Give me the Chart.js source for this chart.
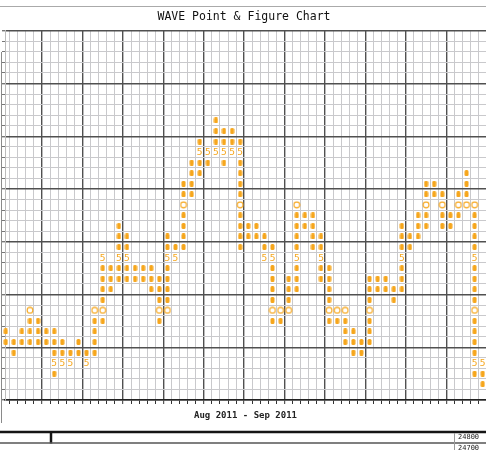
<!DOCTYPE html>
<html>
<head>
<meta charset="utf-8">
<title>WAVE Point &amp; Figure Chart</title>
<script src="https://cdn.jsdelivr.net/npm/chart.js@4/dist/chart.umd.min.js"></script>
<style>
    html, body { margin: 0; padding: 0; background: #fff; overflow: hidden; }
    canvas { display: block; }
</style>
</head>
<body>
<canvas id="pnf" width="486" height="450"></canvas>
<script>
(function () {
    'use strict';

    // one entry per column, box rows counted from the bottom of the grid
    var columnLows = [5, 4, 5, 5, 5, 5, 2, 3, 3, 4, 3, 4, 7, 10, 11, 11, 11, 11, 10, 7,
                      8, 13, 14, 19, 21, 22, 23, 22, 23, 14, 15, 15, 13, 7, 7, 8, 10, 16, 14, 11,
                      7, 7, 5, 4, 4, 5, 10, 10, 9, 10, 14, 15, 16, 19, 16, 16, 17, 18, 2, 1];
    var columnHighs = [6, 5, 6, 8, 7, 6, 6, 5, 4, 5, 4, 8, 13, 12, 16, 15, 12, 12, 12, 11,
                       15, 14, 20, 22, 24, 23, 26, 25, 25, 24, 16, 16, 15, 14, 8, 11, 18, 17, 17, 15,
                       12, 8, 8, 6, 5, 11, 11, 11, 10, 16, 15, 17, 20, 20, 19, 17, 19, 21, 18, 3];
    var rowCount = 35;
    var titleText = 'WAVE Point & Figure Chart';
    var periodText = 'Aug 2011 - Sep 2011';
    var footerLabels = ['24800', '24700'];

    var ORANGE = '#f6a61c';
    var MONO = '"DejaVu Sans Mono", "Liberation Mono", monospace';

    // boxes on a level ending in 0 get a ring, on a level ending in 5 a "5"
    var dots = [], rings = [], fives = [];
    columnLows.forEach(function (low, col) {
        for (var row = low; row <= columnHighs[col]; row++) {
            var p = {x: col, y: row};
            if (row % 10 === 8) {
                rings.push(p);
            } else if (row % 10 === 3) {
                fives.push(p);
            } else {
                dots.push(p);
            }
        }
    });

    function dotImage() {
        var c = document.createElement('canvas');
        c.width = 5;
        c.height = 6;
        var g = c.getContext('2d');
        g.fillStyle = ORANGE;
        g.beginPath();
        if (g.roundRect) {
            g.roundRect(0.5, 0, 4, 6, 1.5);
        } else {
            g.rect(0.5, 0, 4, 6);
        }
        g.fill();
        return c;
    }

    function ringImage() {
        var c = document.createElement('canvas');
        c.width = 8;
        c.height = 8;
        var g = c.getContext('2d');
        g.strokeStyle = ORANGE;
        g.lineWidth = 1.1;
        g.beginPath();
        g.arc(4, 4, 2.9, 0, Math.PI * 2);
        g.stroke();
        return c;
    }

    // grid lines sit on the box edges, half a step off the box centres
    function boundaries(count) {
        return function (scale) {
            var t = [];
            for (var b = 0; b <= count; b++) {
                var v = b - 0.5;
                if (v >= scale.min - 0.001 && v <= scale.max + 0.001) {
                    t.push({value: v});
                }
            }
            scale.ticks = t;
        };
    }

    function gridColor(ctx) {
        var b = Math.round(ctx.tick.value + 0.5);
        return b % 5 === 0 ? '#505050' : '#c9c9cc';
    }

    function gridWidth(ctx) {
        var b = Math.round(ctx.tick.value + 0.5);
        return b % 5 === 0 ? 1.4 : 1;
    }

    var extras = {
        id: 'extras',
        afterDatasetsDraw: function (chart) {
            var ctx = chart.ctx;
            var meta = chart.getDatasetMeta(2);
            ctx.save();
            ctx.font = '9.5px ' + MONO;
            ctx.fillStyle = ORANGE;
            ctx.textAlign = 'center';
            ctx.textBaseline = 'middle';
            meta.data.forEach(function (pt) {
                ctx.fillText('5', pt.x, pt.y + 0.5);
            });
            ctx.restore();
        },
        afterDraw: function (chart) {
            var ctx = chart.ctx;
            function line(x1, y1, x2, y2, color, width) {
                ctx.strokeStyle = color;
                ctx.lineWidth = width;
                ctx.beginPath();
                ctx.moveTo(x1, y1);
                ctx.lineTo(x2, y2);
                ctx.stroke();
            }
            ctx.save();
            line(0, 6.5, 486, 6.5, '#aaaaaa', 1);
            line(1.5, 52, 1.5, 423, '#8a8a8a', 1);
            line(0, 432, 486, 432, '#151515', 2.5);
            line(51, 432, 51, 443.5, '#151515', 2.5);
            line(0, 443, 486, 443, '#555555', 1.5);
            line(454.5, 433, 454.5, 450, '#9a9a9a', 1);
            ctx.font = '7px ' + MONO;
            ctx.fillStyle = '#222';
            ctx.textAlign = 'left';
            ctx.textBaseline = 'middle';
            ctx.fillText(footerLabels[0], 458, 437.5);
            ctx.fillText(footerLabels[1], 458, 448);
            ctx.restore();
        }
    };

    new Chart(document.getElementById('pnf'), {
        type: 'scatter',
        data: {
            datasets: [
                {label: 'boxes', data: dots, pointStyle: dotImage(), clip: false},
                {label: 'tens', data: rings, pointStyle: ringImage(), clip: false},
                {label: 'fives', data: fives, pointRadius: 0, clip: false}
            ]
        },
        options: {
            responsive: false,
            animation: false,
            events: [],
            layout: {autoPadding: false, padding: {left: 2, right: 0, top: 0, bottom: 28.6}},
            plugins: {
                legend: {display: false},
                tooltip: {enabled: false},
                title: {
                    display: true,
                    text: titleText,
                    color: '#111',
                    font: {family: MONO, size: 11.5, weight: 'normal'},
                    padding: {top: 10.1, bottom: 6.85}
                }
            },
            scales: {
                x: {
                    type: 'linear',
                    min: -0.087,
                    max: 59.41,
                    afterBuildTicks: boundaries(61),
                    ticks: {display: false},
                    grid: {color: gridColor, lineWidth: gridWidth, tickLength: 4, tickColor: '#333', tickWidth: 1},
                    border: {display: true, color: '#222', width: 1.5},
                    title: {
                        display: true,
                        text: periodText,
                        color: '#222',
                        font: {family: MONO, size: 9, weight: 'bold'},
                        padding: {top: 6.6, bottom: 0}
                    }
                },
                y: {
                    type: 'linear',
                    min: -0.5,
                    max: rowCount - 0.5,
                    afterBuildTicks: boundaries(rowCount),
                    ticks: {display: false},
                    grid: {color: gridColor, lineWidth: gridWidth, tickLength: 3, tickColor: '#777'},
                    border: {display: true, color: '#bbb', width: 1}
                }
            }
        },
        plugins: [extras]
    });
})();
</script>
</body>
</html>
